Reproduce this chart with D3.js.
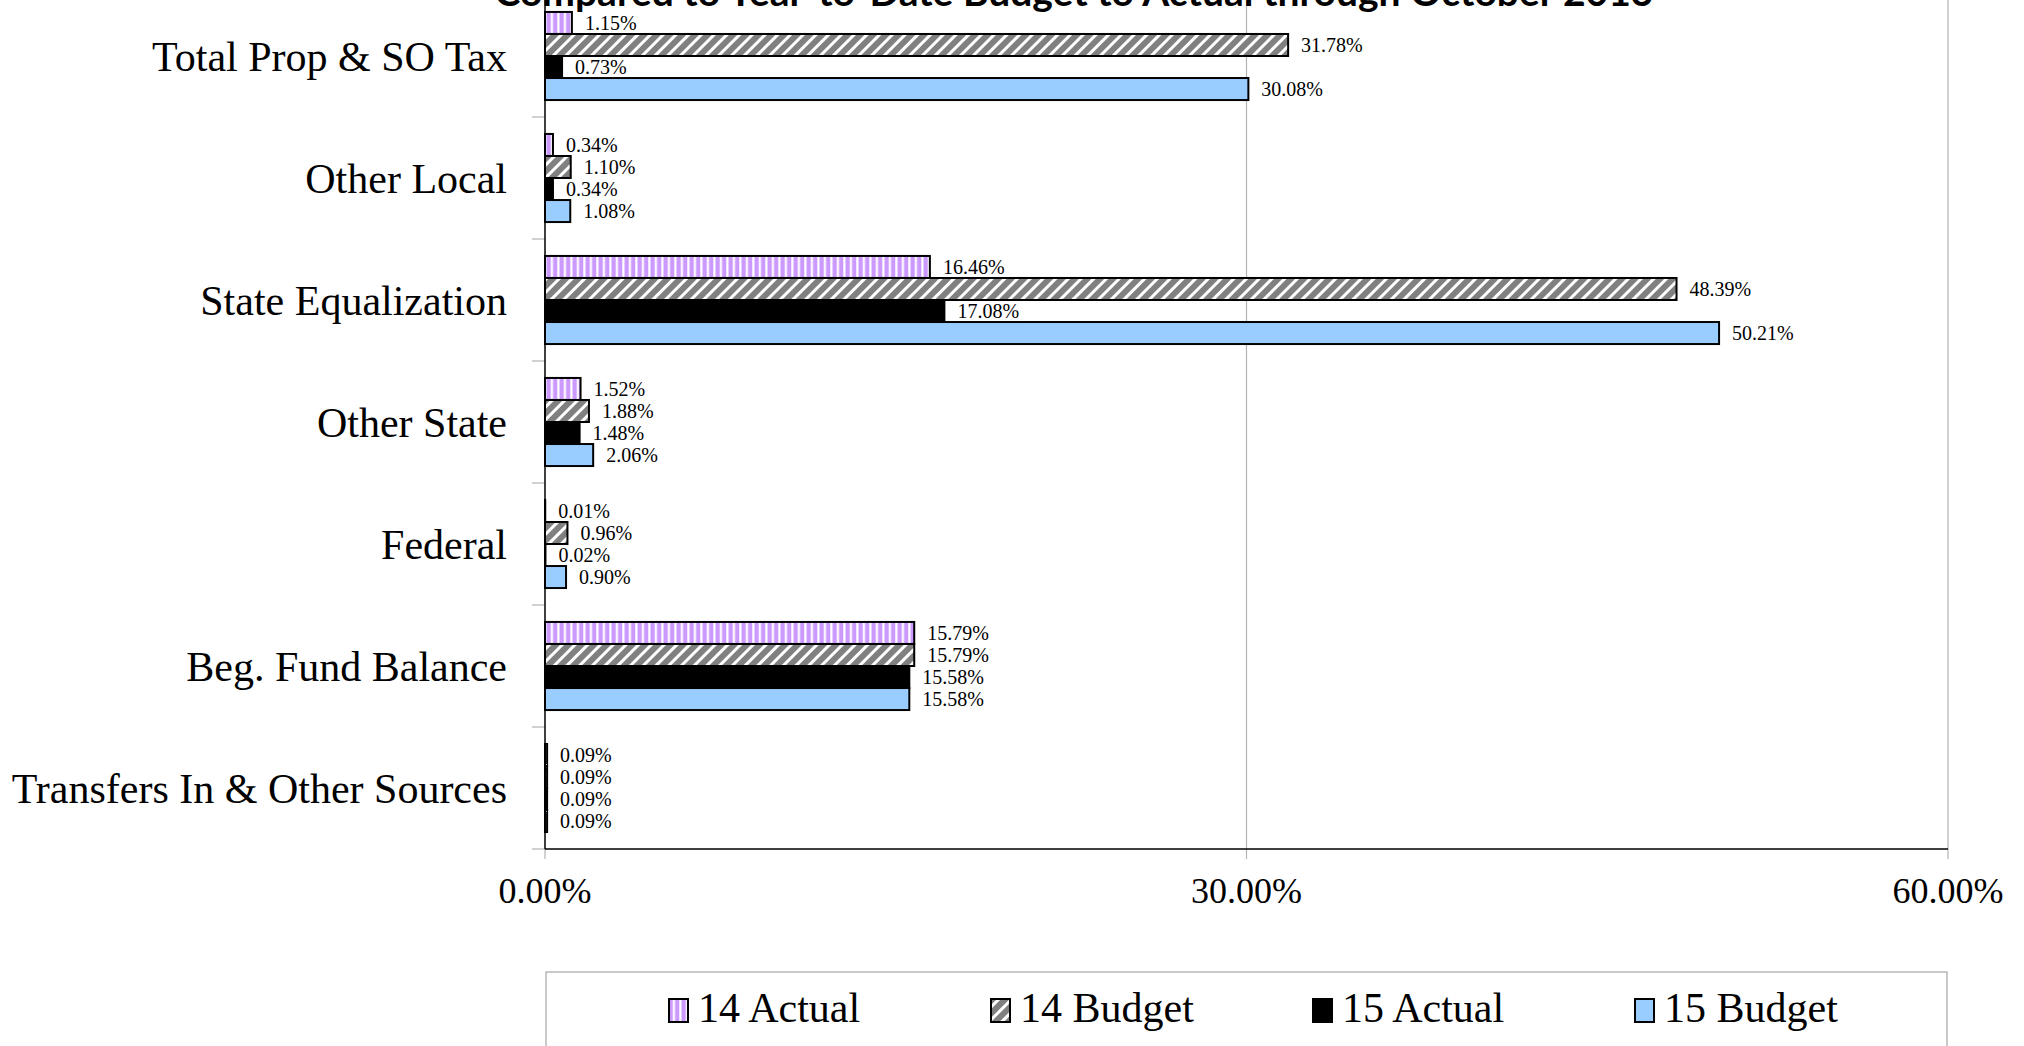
<!DOCTYPE html>
<html>
<head>
<meta charset="utf-8">
<script src="https://cdn.jsdelivr.net/npm/d3@7"></script>
<style>
    html, body { margin: 0; padding: 0; background: #fff; }
    svg { display: block; }
</style>
</head>
<body>
<div id="chart"></div>
<script>
const categories = [
    "Total Prop & SO Tax",
    "Other Local",
    "State Equalization",
    "Other State",
    "Federal",
    "Beg. Fund Balance",
    "Transfers In & Other Sources",
];
const seriesNames = ["14 Actual", "14 Budget", "15 Actual", "15 Budget"];

// values in percent of total revenue
const actual14 = [1.15, 0.34, 16.46, 1.52, 0.01, 15.79, 0.09];
const budget14 = [31.78, 1.10, 48.39, 1.88, 0.96, 15.79, 0.09];
const actual15 = [0.73, 0.34, 17.08, 1.48, 0.02, 15.58, 0.09];
const budget15 = [30.08, 1.08, 50.21, 2.06, 0.90, 15.58, 0.09];

const xTicks = [0, 0.30, 0.60];
const titleText = "Compared to Year-to-Date Budget to Actual through October 2013";

const width = 2024;
const height = 1046;
const marginTop = -5;
const marginRight = 76;
const marginBottom = 197;
const marginLeft = 545;

const seriesValues = [actual14, budget14, actual15, budget15];
const fills = ["url(#vstripe)", "url(#diag)", "#000000", "#99CCFF"];

const svg = d3.select("#chart")
    .append("svg")
    .attr("width", width)
    .attr("height", height)
    .style("font-family", "'Liberation Serif', 'Times New Roman', serif");

// patterns for the two 2014 series
const defs = svg.append("defs");
const vstripe = defs.append("pattern")
    .attr("id", "vstripe")
    .attr("patternUnits", "userSpaceOnUse")
    .attr("width", 6.5)
    .attr("height", 6);
vstripe.append("rect").attr("width", 6.5).attr("height", 6).attr("fill", "#fff");
vstripe.append("rect").attr("x", 0.5).attr("width", 4.3).attr("height", 6).attr("fill", "#CC99FF");

const diag = defs.append("pattern")
    .attr("id", "diag")
    .attr("patternUnits", "userSpaceOnUse")
    .attr("width", 9)
    .attr("height", 9)
    .attr("patternTransform", "rotate(45)");
diag.append("rect").attr("width", 9).attr("height", 9).attr("fill", "#fff");
diag.append("rect").attr("width", 6).attr("height", 9).attr("fill", "#808080");

const x = d3.scaleLinear()
    .domain([0, 0.6])
    .range([marginLeft, width - marginRight]);

const y = d3.scaleBand()
    .domain(categories)
    .range([marginTop, height - marginBottom])
    .paddingInner(0)
    .paddingOuter(0);

const ySub = d3.scaleBand()
    .domain(seriesNames)
    .range([0, y.bandwidth()])
    .paddingInner(0)
    .paddingOuter(0.77);

const plotBottom = height - marginBottom;

// vertical grid lines (extend below axis as ticks)
svg.append("g")
    .selectAll("line")
    .data(xTicks)
    .enter()
    .append("line")
    .attr("x1", (d) => x(d))
    .attr("x2", (d) => x(d))
    .attr("y1", (d) => (d === 0 ? plotBottom : marginTop))
    .attr("y2", plotBottom + 10)
    .attr("stroke", "#b3b3b3")
    .attr("stroke-width", 1.2);

// category tick marks on the left
svg.append("g")
    .selectAll("line")
    .data(categories)
    .enter()
    .append("line")
    .attr("x1", marginLeft - 13)
    .attr("x2", marginLeft)
    .attr("y1", (d) => y(d) + y.bandwidth())
    .attr("y2", (d) => y(d) + y.bandwidth())
    .attr("stroke", "#b3b3b3")
    .attr("stroke-width", 1.2);

// bars
const rows = [];
categories.forEach((cat, i) => {
    seriesNames.forEach((s, j) => {
        rows.push({ category: cat, series: s, value: seriesValues[j][i] / 100, si: j });
    });
});

svg.append("g")
    .selectAll("rect")
    .data(rows)
    .enter()
    .append("rect")
    .attr("x", x(0))
    .attr("y", (d) => y(d.category) + ySub(d.series))
    .attr("width", (d) => x(d.value) - x(0))
    .attr("height", ySub.bandwidth())
    .attr("fill", (d) => fills[d.si])
    .attr("stroke", "#000")
    .attr("stroke-width", 2);

// axes lines
svg.append("line")
    .attr("x1", marginLeft)
    .attr("x2", marginLeft)
    .attr("y1", marginTop)
    .attr("y2", plotBottom)
    .attr("stroke", "#000")
    .attr("stroke-width", 1.5);
svg.append("line")
    .attr("x1", marginLeft)
    .attr("x2", width - marginRight)
    .attr("y1", plotBottom)
    .attr("y2", plotBottom)
    .attr("stroke", "#000")
    .attr("stroke-width", 1.5);

// data labels with white background
const labels = svg.append("g")
    .selectAll("g")
    .data(rows)
    .enter()
    .append("g");

labels.append("text")
    .attr("x", (d) => x(d.value) + 13)
    .attr("y", (d) => y(d.category) + ySub(d.series) + ySub.bandwidth() / 2)
    .attr("dy", "0.35em")
    .style("font-size", "20px")
    .attr("fill", "#000")
    .text((d) => d3.format(".2%")(d.value));

labels.each(function (d) {
    const g = d3.select(this);
    const t = g.select("text");
    const bb = t.node().getBBox();
    g.insert("rect", "text")
        .attr("x", x(d.value) + 2)
        .attr("y", y(d.category) + ySub(d.series) + 1)
        .attr("width", bb.x + bb.width + 8 - (x(d.value) + 2))
        .attr("height", ySub.bandwidth() - 2)
        .attr("fill", "#fff");
});

// category labels
svg.append("g")
    .selectAll("text")
    .data(categories)
    .enter()
    .append("text")
    .attr("x", marginLeft - 38)
    .attr("y", (d) => y(d) + y.bandwidth() / 2)
    .attr("dy", "0.35em")
    .attr("text-anchor", "end")
    .style("font-size", "42px")
    .text((d) => d);

// x tick labels
svg.append("g")
    .selectAll("text")
    .data(xTicks)
    .enter()
    .append("text")
    .attr("x", (d) => x(d))
    .attr("y", plotBottom + 54)
    .attr("text-anchor", "middle")
    .style("font-size", "36px")
    .text((d) => d3.format(".2%")(d));

// title (cut off at the top)
svg.append("text")
    .attr("x", 1074)
    .attr("y", 6)
    .attr("text-anchor", "middle")
    .attr("textLength", 1159)
    .attr("lengthAdjust", "spacingAndGlyphs")
    .style("font-family", "Lato, 'Liberation Sans', sans-serif")
    .style("font-weight", "bold")
    .style("font-size", "38px")
    .text(titleText);

// legend
const legendTop = 972;
svg.append("rect")
    .attr("x", marginLeft + 1)
    .attr("y", legendTop)
    .attr("width", x(0.6) - marginLeft - 2)
    .attr("height", 120)
    .attr("fill", "none")
    .attr("stroke", "#a6a6a6")
    .attr("stroke-width", 1.2);

const legendStart = 668;
const legendStep = 322;
const legend = svg.append("g")
    .selectAll("g")
    .data(seriesNames)
    .enter()
    .append("g")
    .attr("transform", (d, i) => `translate(${legendStart + i * legendStep},${legendTop})`);

legend.append("rect")
    .attr("x", 1)
    .attr("y", 27)
    .attr("width", 19)
    .attr("height", 23)
    .attr("fill", (d, i) => fills[i])
    .attr("stroke", "#000")
    .attr("stroke-width", 2);

legend.append("text")
    .attr("x", 30)
    .attr("y", 50)
    .style("font-size", "42px")
    .text((d) => d);
</script>
</body>
</html>
